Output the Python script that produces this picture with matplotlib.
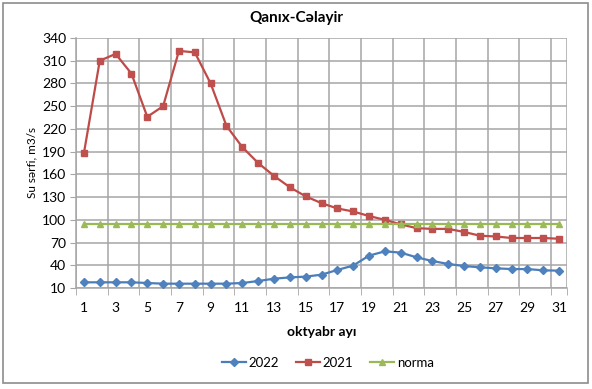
import numpy as np
import matplotlib.pyplot as plt
from matplotlib.patches import Rectangle

plt.rcParams["font.family"] = ["Lato", "DejaVu Sans"]

DAYS = list(range(1, 32))
Y2022 = [17.5, 17.5, 17.5, 17.5, 16.6, 15.7, 15.7, 15.7, 15.7, 15.7,
         16.6, 19.2, 22.3, 24.0, 25.0, 27.6, 33.8, 39.6, 52.7, 58.4,
         56.7, 50.5, 45.6, 41.7, 39.0, 37.3, 36.0, 35.0, 35.0, 33.3, 32.9]
Y2021 = [188, 310, 319, 293, 236, 250, 323, 321, 280, 224,
         196, 175, 158, 143, 131, 122, 115, 111, 105, 100,
         94, 89, 88, 88, 84, 79, 78, 76, 76, 76, 75]
NORMA = [95] * 31
YTICKS = list(range(10, 341, 30))

fig = plt.figure(figsize=(5.92, 3.89), dpi=100)
ax = fig.add_axes([76 / 592, 1 - 288 / 389, (567 - 76) / 592, (288 - 38) / 389])

grid_c = "#A6A6A6"
ax.plot(DAYS, Y2022, "-D", color="#4A7EBB", lw=1.6, ms=4.5, label="2022",
        markerfacecolor="#4F81BD", markeredgecolor="#4F81BD", zorder=3)
ax.plot(DAYS, Y2021, "-s", color="#BE4B48", lw=1.6, ms=4.8, label="2021",
        markerfacecolor="#C0504D", markeredgecolor="#C0504D", zorder=3)
ax.plot(DAYS, NORMA, "-^", color="#98B954", lw=1.6, ms=5, label="norma",
        markerfacecolor="#9BBB59", markeredgecolor="#9BBB59", zorder=3)

ax.set_xlim(0.5, 31.5)
ax.set_ylim(10, 340)
ax.set_yticks(YTICKS)
ax.set_xticks(DAYS[::2])
ax.set_xticks(list(np.arange(0.5, 31, 2)) + [31.5], minor=True)
ax.tick_params(axis="x", which="major", length=0, pad=10, labelsize=10)
ax.tick_params(axis="x", which="minor", length=5, color=grid_c, direction="out")
ax.tick_params(axis="y", length=4, color=grid_c, labelsize=10, pad=3)
ax.grid(True, axis="y", color=grid_c, lw=1.1)
ax.grid(True, axis="x", which="minor", color=grid_c, lw=1.1)
for s in ["top", "right"]:
    ax.spines[s].set_visible(False)
for s in ["left", "bottom"]:
    ax.spines[s].set_color(grid_c)
    ax.spines[s].set_linewidth(1.1)

ax.set_xlabel("oktyabr ayı", fontsize=10, fontweight="bold", labelpad=9)
ax.set_ylabel("Su sərfi, m3/s", fontsize=8.5, labelpad=3)
fig.text(0.5, 1 - 18 / 389, "Qanıx-Cəlayir", ha="center", va="center",
         fontsize=11, fontweight="bold")

fig.legend(loc="center", bbox_to_anchor=(328 / 592, 1 - 363 / 389), ncol=3,
           frameon=False, fontsize=9.5, handlelength=1.8, handletextpad=0.2,
           columnspacing=1.3)

fig.patches.append(Rectangle((3 / 592, 1 - 383 / 389), 585 / 592, 380 / 389,
                             transform=fig.transFigure, fill=False,
                             edgecolor="#8C8C8C", lw=1.2))
fig.savefig("out.png", dpi=100)
